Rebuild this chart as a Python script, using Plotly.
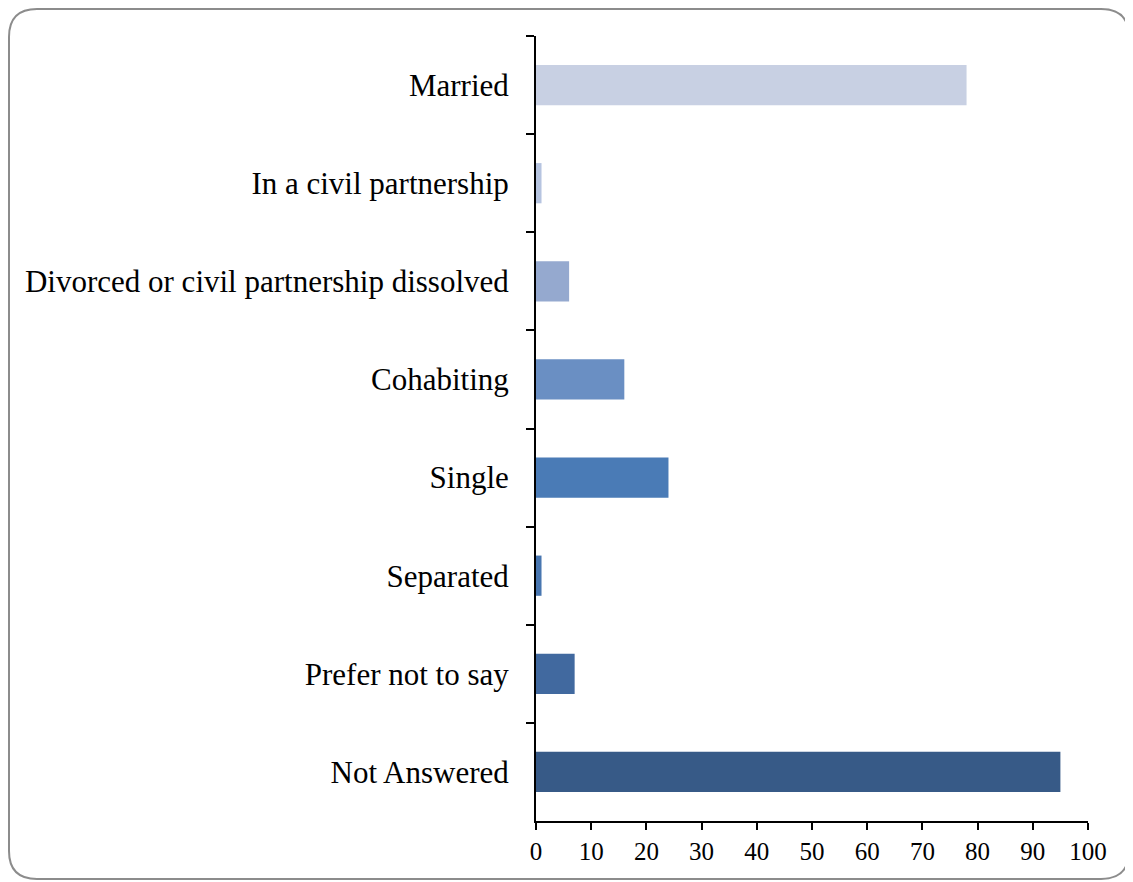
import plotly.graph_objects as go

# marital status responses
categories = ["Married", "In a civil partnership", "Divorced or civil partnership dissolved",
              "Cohabiting", "Single", "Separated", "Prefer not to say", "Not Answered"]
counts = [78, 1, 6, 16, 24, 1, 7, 95]
bar_colors = ["#C8D0E3", "#B6C4E0", "#95A9CF", "#6A8FC3", "#4A7BB6", "#4876B0", "#41699F", "#375A87"]
x_ticks = list(range(0, 101, 10))

# page has an 8px body margin, so the figure is a bit smaller than the window
W, H = 1125, 874
M_LEFT, M_RIGHT, M_TOP, M_BOTTOM = 528, 45, 28, 61
PW = W - M_LEFT - M_RIGHT
PH = H - M_TOP - M_BOTTOM


def px(x, y):
    # figure pixel position -> paper coordinates
    return (x - M_LEFT) / PW, (H - M_BOTTOM - y) / PH


def rounded_rect(x0, y0, x1, y1, r):
    pts = [
        ("M", [(x0 + r, y0)]),
        ("L", [(x1 - r, y0)]),
        ("Q", [(x1, y0), (x1, y0 + r)]),
        ("L", [(x1, y1 - r)]),
        ("Q", [(x1, y1), (x1 - r, y1)]),
        ("L", [(x0 + r, y1)]),
        ("Q", [(x0, y1), (x0, y1 - r)]),
        ("L", [(x0, y0 + r)]),
        ("Q", [(x0, y0), (x0 + r, y0)]),
    ]
    out = []
    for cmd, ps in pts:
        coords = " ".join("%.5f,%.5f" % px(a, b) for a, b in ps)
        out.append(cmd + " " + coords)
    return " ".join(out) + " Z"


fig = go.Figure(go.Bar(
    x=counts, y=categories, orientation="h",
    marker=dict(color=bar_colors, line=dict(width=0)),
))

fig.update_layout(
    width=W, height=H,
    margin=dict(l=M_LEFT, r=M_RIGHT, t=M_TOP, b=M_BOTTOM),
    paper_bgcolor="white", plot_bgcolor="white",
    font=dict(family="Liberation Serif", color="black"),
    bargap=0.59,
    showlegend=False,
    shapes=[dict(type="path", xref="paper", yref="paper",
                 path=rounded_rect(1, 1, 1121, 871, 28),
                 line=dict(color="#8C8C8C", width=2), layer="below")],
)

fig.update_xaxes(range=[0, 100], tickvals=x_ticks, showgrid=False, zeroline=False,
                 showline=True, linecolor="black", linewidth=2,
                 ticks="outside", ticklen=7, tickwidth=2, tickcolor="black",
                 tickfont=dict(size=25, family="Liberation Serif"))
fig.update_yaxes(autorange="reversed", showgrid=False, showline=True, linecolor="black", linewidth=2,
                 ticks="outside", tickson="boundaries", ticklen=8, tickwidth=2, tickcolor="black",
                 tickfont=dict(size=31, family="Liberation Serif"), ticklabelstandoff=19)

fig.write_html("out.html")
